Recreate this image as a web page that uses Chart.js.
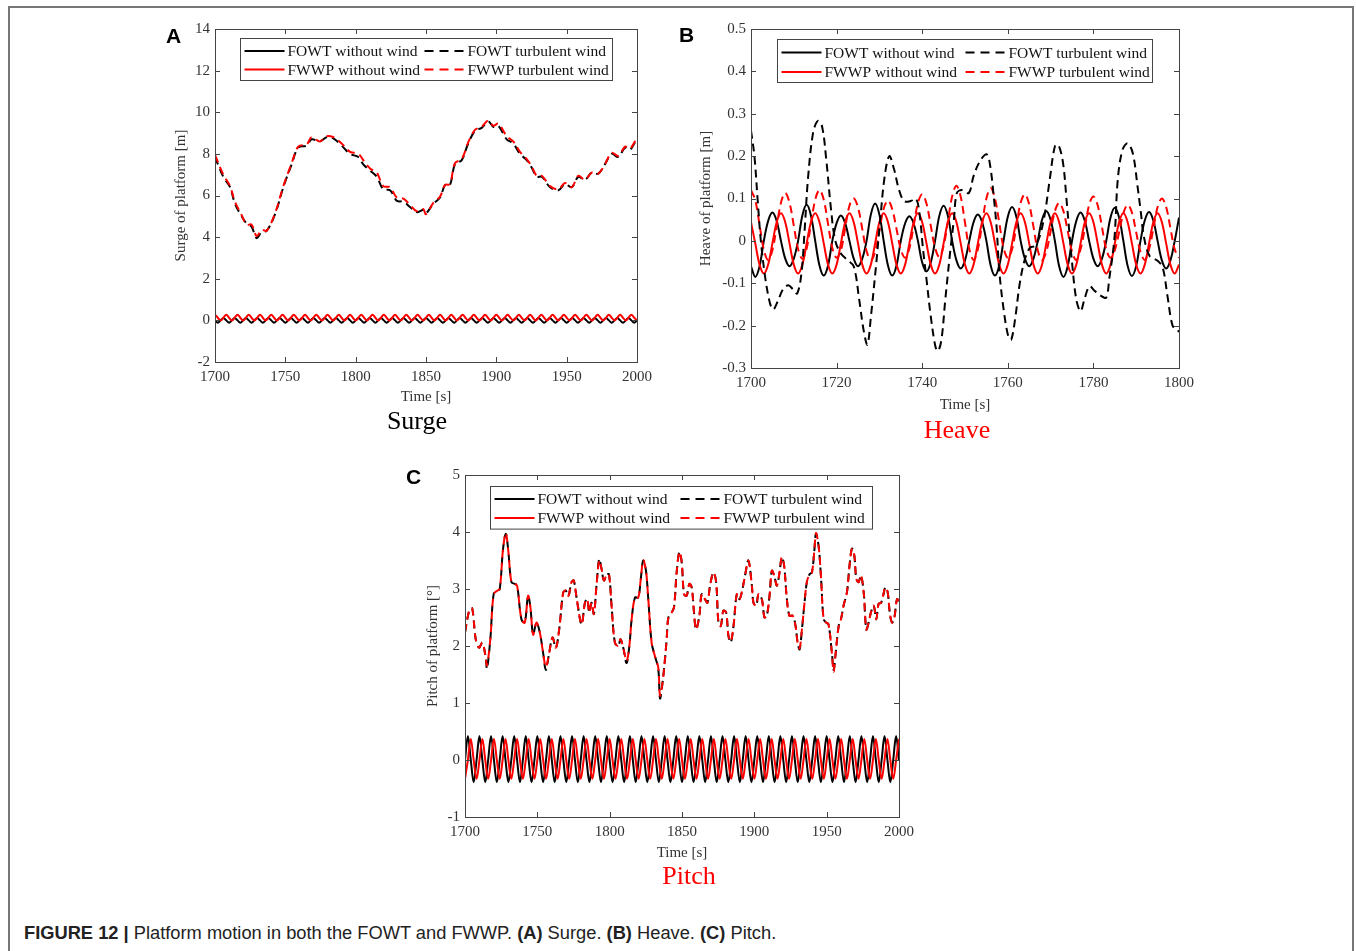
<!DOCTYPE html>
<html lang="en">
<head>
<meta charset="UTF-8">
<title>Platform motion in both the FOWT and FWWP</title>
<script src="https://cdn.jsdelivr.net/npm/chart.js"></script>
<style>
body { margin: 0; background: #fff; overflow: hidden; }
#page { position: relative; width: 1356px; height: 951px; overflow: hidden; font-family: 'Liberation Serif', 'Times New Roman', serif; }
.frame { position: absolute; left: 8px; top: 6px; width: 1342px; height: 1000px; border: 2px solid #777; border-bottom: none; }
canvas { position: absolute; }
.tag { position: absolute; font-family: 'Liberation Sans', Arial, sans-serif; font-weight: bold; font-size: 21px; line-height: 21px; color: #000; }
.name { position: absolute; font-size: 26px; line-height: 26px; transform: translateX(-50%); white-space: nowrap; }
.caption { position: absolute; left: 24px; top: 924px; font-family: 'Liberation Sans', Arial, sans-serif; font-size: 18.3px; line-height: 18px; color: #222; white-space: nowrap; }
</style>
</head>
<body>
<div id="page">
  <div class="frame"></div>
  <canvas id="surgeChart" width="510" height="400" style="left:150px;top:15px"></canvas>
  <canvas id="heaveChart" width="520" height="405" style="left:680px;top:15px"></canvas>
  <canvas id="pitchChart" width="520" height="410" style="left:400px;top:460px"></canvas>
  <div class="tag" style="left:166px;top:25px">A</div>
  <div class="tag" style="left:679px;top:24px">B</div>
  <div class="tag" style="left:406px;top:466px">C</div>
  <div class="name" style="left:417px;top:408px;color:#000">Surge</div>
  <div class="name" style="left:957px;top:417px;color:#f00">Heave</div>
  <div class="name" style="left:689px;top:863px;color:#f00">Pitch</div>
  <div class="caption"><b>FIGURE 12 |</b> Platform motion in both the FOWT and FWWP. <b>(A)</b> Surge. <b>(B)</b> Heave. <b>(C)</b> Pitch.</div>
</div>

<script>
// legend labels (same for all three panels)
const seriesLabels = ['FOWT without wind', 'FOWT turbulent wind', 'FWWP without wind', 'FWWP turbulent wind'];

// tick values
const xTicksLong = [1700, 1750, 1800, 1850, 1900, 1950, 2000];
const xTicksHeave = [1700, 1720, 1740, 1760, 1780, 1800];
const yTicksSurge = [-2, 0, 2, 4, 6, 8, 10, 12, 14];
const yTicksHeave = [-0.3, -0.2, -0.1, 0, 0.1, 0.2, 0.3, 0.4, 0.5];
const yTicksPitch = [-1, 0, 1, 2, 3, 4, 5];

// 2 s sample times, 1700-2000 s (surge and pitch, no wind)
const tGrid2 = [
  1700,1702,1704,1706,1708,1710,1712,1714,1716,1718,1720,1722,1724,1726,1728,1730,
  1732,1734,1736,1738,1740,1742,1744,1746,1748,1750,1752,1754,1756,1758,1760,1762,
  1764,1766,1768,1770,1772,1774,1776,1778,1780,1782,1784,1786,1788,1790,1792,1794,
  1796,1798,1800,1802,1804,1806,1808,1810,1812,1814,1816,1818,1820,1822,1824,1826,
  1828,1830,1832,1834,1836,1838,1840,1842,1844,1846,1848,1850,1852,1854,1856,1858,
  1860,1862,1864,1866,1868,1870,1872,1874,1876,1878,1880,1882,1884,1886,1888,1890,
  1892,1894,1896,1898,1900,1902,1904,1906,1908,1910,1912,1914,1916,1918,1920,1922,
  1924,1926,1928,1930,1932,1934,1936,1938,1940,1942,1944,1946,1948,1950,1952,1954,
  1956,1958,1960,1962,1964,1966,1968,1970,1972,1974,1976,1978,1980,1982,1984,1986,
  1988,1990,1992,1994,1996,1998,2000
];

// 1 s sample times, 1700-1800 s (heave)
const tGrid1 = [
  1700,1701,1702,1703,1704,1705,1706,1707,1708,1709,
  1710,1711,1712,1713,1714,1715,1716,1717,1718,1719,
  1720,1721,1722,1723,1724,1725,1726,1727,1728,1729,
  1730,1731,1732,1733,1734,1735,1736,1737,1738,1739,
  1740,1741,1742,1743,1744,1745,1746,1747,1748,1749,
  1750,1751,1752,1753,1754,1755,1756,1757,1758,1759,
  1760,1761,1762,1763,1764,1765,1766,1767,1768,1769,
  1770,1771,1772,1773,1774,1775,1776,1777,1778,1779,
  1780,1781,1782,1783,1784,1785,1786,1787,1788,1789,
  1790,1791,1792,1793,1794,1795,1796,1797,1798,1799,
  1800
];

// ---- Surge [m] ----
const surgeCalmFowt = [
  0,-0.12,0,0.12,0,-0.12,0,0.12,0,-0.12,0,0.12,0,-0.12,0,0.12,
  0,-0.12,0,0.12,0,-0.12,0,0.12,0,-0.12,0,0.12,0,-0.12,0,0.12,
  0,-0.12,0,0.12,0,-0.12,0,0.12,0,-0.12,0,0.12,0,-0.12,0,0.12,
  0,-0.12,0,0.12,0,-0.12,0,0.12,0,-0.12,0,0.12,0,-0.12,0,0.12,
  0,-0.12,0,0.12,0,-0.12,0,0.12,0,-0.12,0,0.12,0,-0.12,0,0.12,
  0,-0.12,0,0.12,0,-0.12,0,0.12,0,-0.12,0,0.12,0,-0.12,0,0.12,
  0,-0.12,0,0.12,0,-0.12,0,0.12,0,-0.12,0,0.12,0,-0.12,0,0.12,
  0,-0.12,0,0.12,0,-0.12,0,0.12,0,-0.12,0,0.12,0,-0.12,0,0.12,
  0,-0.12,0,0.12,0,-0.12,0,0.12,0,-0.12,0,0.12,0,-0.12,0,0.12,
  0,-0.12,0,0.12,0,-0.12,0
];
const surgeCalmFwwp = [
  0.27,0.13,0,0.13,0.27,0.13,0,0.13,0.27,0.13,0,0.13,0.27,0.13,0,0.13,
  0.27,0.13,0,0.13,0.27,0.13,0,0.13,0.27,0.13,0,0.13,0.27,0.13,0,0.13,
  0.27,0.13,0,0.13,0.27,0.13,0,0.13,0.27,0.13,0,0.13,0.27,0.13,0,0.13,
  0.27,0.13,0,0.13,0.27,0.13,0,0.13,0.27,0.13,0,0.13,0.27,0.13,0,0.13,
  0.27,0.13,0,0.13,0.27,0.13,0,0.13,0.27,0.13,0,0.13,0.27,0.13,0,0.13,
  0.27,0.13,0,0.13,0.27,0.13,0,0.13,0.27,0.13,0,0.13,0.27,0.13,0,0.13,
  0.27,0.13,0,0.13,0.27,0.13,0,0.13,0.27,0.13,0,0.13,0.27,0.13,0,0.13,
  0.27,0.13,0,0.13,0.27,0.13,0,0.13,0.27,0.13,0,0.13,0.27,0.13,0,0.13,
  0.27,0.13,0,0.13,0.27,0.13,0,0.13,0.27,0.13,0,0.13,0.27,0.13,0,0.13,
  0.27,0.13,0,0.13,0.27,0.13,0
];
const tSurgeWind = [
  1700,1705.9,1710.7,1714.2,1719,1722.5,1726,1729.6,1733.2,1736.7,
  1742.7,1748.6,1754.5,1759.2,1765.2,1768.7,1774.6,1779.4,1784.1,1790,
  1796,1801.9,1805.4,1810.2,1815,1819.6,1824.4,1829.2,1833.9,1838.6,
  1843.4,1848,1850,1855.2,1860,1863.5,1867,1870.6,1875.4,1880,
  1884.8,1889.6,1894.3,1897.9,1901.4,1907.4,1912,1916.8,1921.6,1925.1,
  1928.7,1932.3,1938.2,1944.1,1948.8,1953.6,1958.3,1963,1967.8,1972.5,
  1977.2,1982,1986.7,1991.5,1995,1998.6,2000
];
const surgeWindFowt = [
  7.85,6.9,6.4,5.6,5.0,4.65,4.5,3.95,4.25,4.3,
  5.1,6.4,7.5,8.3,8.4,8.7,8.6,8.8,8.75,8.4,
  8.0,7.85,7.5,7.2,6.9,6.3,6.25,5.75,5.7,5.45,
  5.2,5.3,5.15,5.6,5.9,6.5,6.5,7.5,7.7,8.5,
  9.1,9.25,9.55,9.3,9.35,8.7,8.5,8.0,7.7,7.35,
  6.9,6.9,6.4,6.25,6.55,6.4,6.9,6.75,7.1,7.05,
  7.5,8.0,7.85,8.3,8.2,8.55,8.6
];
const surgeWindFwwp = [
  7.95,7.0,6.45,5.7,5.05,4.6,4.6,4.05,4.35,4.3,
  5.15,6.45,7.55,8.35,8.45,8.8,8.6,8.85,8.8,8.5,
  8.1,8.0,7.7,7.3,7.1,6.45,6.4,5.9,5.85,5.55,
  5.25,5.35,5.1,5.65,5.95,6.5,6.55,7.55,7.75,8.55,
  9.15,9.3,9.6,9.35,9.45,8.85,8.6,8.1,7.75,7.4,
  6.95,6.95,6.45,6.3,6.6,6.4,6.95,6.75,7.1,7.05,
  7.5,8.05,7.9,8.35,8.25,8.6,8.65
];

// ---- Heave [m] ----
const heaveCalmFowt = [
  -0.06,-0.085,-0.06,0,0.047,0.067,0.047,0,
  -0.042,-0.06,-0.042,0,0.06,0.085,0.06,0,
  -0.058,-0.082,-0.058,0,0.042,0.06,0.042,0,
  -0.042,-0.06,-0.042,0,0.062,0.088,0.062,0,
  -0.058,-0.082,-0.058,0,0.041,0.058,0.041,0,
  -0.051,-0.072,-0.051,0,0.059,0.083,0.059,0,
  -0.046,-0.065,-0.046,0,0.044,0.062,0.044,0,
  -0.058,-0.082,-0.058,0,0.057,0.08,0.057,0,
  -0.042,-0.06,-0.042,0,0.05,0.07,0.05,0,
  -0.06,-0.085,-0.06,0,0.047,0.067,0.047,0,
  -0.042,-0.06,-0.042,0,0.055,0.078,0.055,0,
  -0.059,-0.083,-0.059,0,0.048,0.068,0.048,0,
  -0.046,-0.065,-0.046,0,0.055
];
const heaveCalmFwwp = [
  0.044,-0.006,-0.056,-0.077,-0.056,-0.006,0.044,0.065,
  0.044,-0.006,-0.056,-0.077,-0.056,-0.006,0.044,0.065,
  0.044,-0.006,-0.056,-0.077,-0.056,-0.006,0.044,0.065,
  0.044,-0.006,-0.056,-0.077,-0.056,-0.006,0.044,0.065,
  0.044,-0.006,-0.056,-0.077,-0.056,-0.006,0.044,0.065,
  0.044,-0.006,-0.056,-0.077,-0.056,-0.006,0.044,0.065,
  0.044,-0.006,-0.056,-0.077,-0.056,-0.006,0.044,0.065,
  0.044,-0.006,-0.056,-0.077,-0.056,-0.006,0.044,0.065,
  0.044,-0.006,-0.056,-0.077,-0.056,-0.006,0.044,0.065,
  0.044,-0.006,-0.056,-0.077,-0.056,-0.006,0.044,0.065,
  0.044,-0.006,-0.056,-0.077,-0.056,-0.006,0.044,0.065,
  0.044,-0.006,-0.056,-0.077,-0.056,-0.006,0.044,0.065,
  0.044,-0.006,-0.056,-0.077,-0.056
];
const heaveWindFwwp = [
  0.12,0.096,0.038,-0.021,-0.045,-0.022,0.034,0.09,
  0.113,0.09,0.036,-0.019,-0.042,-0.018,0.039,0.097,
  0.12,0.097,0.04,-0.017,-0.04,-0.023,0.03,0.083,
  0.1,0.079,0.028,-0.024,-0.045,-0.026,0.025,0.076,
  0.095,0.075,0.028,-0.02,-0.04,-0.018,0.035,0.089,
  0.11,0.088,0.036,-0.016,-0.038,-0.012,0.046,0.105,
  0.13,0.104,0.043,-0.019,-0.045,-0.02,0.04,0.1,
  0.125,0.1,0.043,-0.016,-0.04,-0.02,0.035,0.09,
  0.11,0.086,0.033,-0.022,-0.045,-0.025,0.022,0.07,
  0.09,0.07,0.023,-0.025,-0.045,-0.02,0.03,0.085,
  0.105,0.084,0.033,-0.02,-0.04,-0.022,0.02,0.065,
  0.085,0.067,0.02,-0.026,-0.045,-0.02,0.028,0.08,
  0.1,0.08,0.03,-0.02,-0.04
];
const tHeaveWind = [
  1700,1700.8,1701.6,1702.3,1703.3,1704.4,1705.2,1706.1,1707.5,1708.7,
  1709.8,1710.8,1711.8,1712.5,1713.3,1714.5,1715.6,1716.6,1717.6,1718.7,
  1719.7,1721,1722.5,1724,1725.3,1726.3,1727.2,1728,1729.2,1730.2,
  1731.2,1732.3,1733.4,1734.6,1735.8,1737.3,1738.5,1739.3,1740.2,1741,
  1742,1743.1,1743.7,1744.5,1745.4,1746.6,1747.4,1748.1,1749.3,1750.9,
  1752,1753.6,1755.1,1755.9,1756.7,1757.4,1758,1759,1760.1,1760.8,
  1761.7,1762.8,1764,1765.2,1766.3,1767.5,1768.7,1769.8,1771,1771.8,
  1772.9,1773.7,1774.3,1775,1776,1777,1777.9,1779.1,1780.3,1781.8,
  1783,1783.7,1784.9,1785.7,1786.8,1788,1789.2,1790.3,1791.1,1791.8,
  1793.1,1795,1796.2,1797.3,1798.5,1799.6,1800
];
const heaveWindFowt = [
  0.26,0.2,0.09,0,-0.085,-0.146,-0.162,-0.146,-0.114,-0.105,
  -0.114,-0.124,-0.075,0.02,0.145,0.255,0.283,0.27,0.19,0.074,
  0,-0.03,-0.045,-0.06,-0.14,-0.21,-0.245,-0.18,-0.06,0.05,
  0.15,0.2,0.17,0.12,0.094,0.094,0.1,0.07,-0.02,-0.09,
  -0.178,-0.25,-0.26,-0.233,-0.138,-0.02,0.05,0.113,0.12,0.113,
  0.153,0.19,0.204,0.176,0.106,0.03,-0.07,-0.16,-0.225,-0.233,
  -0.185,-0.1,-0.043,-0.016,-0.012,0.012,0.067,0.145,0.223,0.227,
  0.184,0.1,0.03,-0.05,-0.138,-0.166,-0.138,-0.107,-0.118,-0.13,
  -0.134,-0.09,0.004,0.145,0.215,0.23,0.207,0.13,0.066,0.01,
  -0.035,-0.047,-0.063,-0.13,-0.2,-0.21,-0.215
];

// ---- Pitch [deg] ----
const pitchCalmFowt = [
  0,0.42,0,-0.39,0,0.42,0,-0.39,0,0.42,0,-0.39,0,0.42,0,-0.39,
  0,0.42,0,-0.39,0,0.42,0,-0.39,0,0.42,0,-0.39,0,0.42,0,-0.39,
  0,0.42,0,-0.39,0,0.42,0,-0.39,0,0.42,0,-0.39,0,0.42,0,-0.39,
  0,0.42,0,-0.39,0,0.42,0,-0.39,0,0.42,0,-0.39,0,0.42,0,-0.39,
  0,0.42,0,-0.39,0,0.42,0,-0.39,0,0.42,0,-0.39,0,0.42,0,-0.39,
  0,0.42,0,-0.39,0,0.42,0,-0.39,0,0.42,0,-0.39,0,0.42,0,-0.39,
  0,0.42,0,-0.39,0,0.42,0,-0.39,0,0.42,0,-0.39,0,0.42,0,-0.39,
  0,0.42,0,-0.39,0,0.42,0,-0.39,0,0.42,0,-0.39,0,0.42,0,-0.39,
  0,0.42,0,-0.39,0,0.42,0,-0.39,0,0.42,0,-0.39,0,0.42,0,-0.39,
  0,0.42,0,-0.39,0,0.42,0
];
const pitchCalmFwwp = [
  -0.33,0,0.37,0,-0.33,0,0.37,0,-0.33,0,0.37,0,-0.33,0,0.37,0,
  -0.33,0,0.37,0,-0.33,0,0.37,0,-0.33,0,0.37,0,-0.33,0,0.37,0,
  -0.33,0,0.37,0,-0.33,0,0.37,0,-0.33,0,0.37,0,-0.33,0,0.37,0,
  -0.33,0,0.37,0,-0.33,0,0.37,0,-0.33,0,0.37,0,-0.33,0,0.37,0,
  -0.33,0,0.37,0,-0.33,0,0.37,0,-0.33,0,0.37,0,-0.33,0,0.37,0,
  -0.33,0,0.37,0,-0.33,0,0.37,0,-0.33,0,0.37,0,-0.33,0,0.37,0,
  -0.33,0,0.37,0,-0.33,0,0.37,0,-0.33,0,0.37,0,-0.33,0,0.37,0,
  -0.33,0,0.37,0,-0.33,0,0.37,0,-0.33,0,0.37,0,-0.33,0,0.37,0,
  -0.33,0,0.37,0,-0.33,0,0.37,0,-0.33,0,0.37,0,-0.33,0,0.37,0,
  -0.33,0,0.37,0,-0.33,0,0.37
];
const tPitchWind = [
  1700,1703.2,1705,1707.4,1709.7,1712,1714.3,1715.2,1717.5,1719.8,
  1722.2,1724,1726.3,1728.2,1729.8,1732.1,1734.4,1736,1739,1741.3,
  1743.6,1745.2,1747.1,1749.4,1751.7,1754,1755.9,1758.2,1760.5,1762.8,
  1765.1,1767.9,1769.7,1771.5,1773.6,1775.2,1777.1,1780.6,1782.9,1784.5,
  1785.9,1787.5,1789.1,1790.9,1792.8,1794.4,1796,1797.9,1799.5,1801.3,
  1803.6,1806,1807.5,1809.4,1811.7,1813.6,1815.2,1817.5,1819.8,1821.4,
  1823.2,1825.1,1826.7,1829,1831.3,1833.6,1834.8,1836.5,1838.2,1839.4,
  1840.6,1842.9,1844.5,1846.3,1848.2,1849.8,1851.4,1853.2,1855.1,1856.7,
  1858.3,1859.7,1862,1863.6,1865.9,1867.6,1869.4,1871.7,1873.6,1875.2,
  1876.8,1878.6,1880.5,1882.1,1883.7,1885.6,1887.9,1889.7,1891.3,1893.6,
  1895.9,1898.3,1899.4,1901.3,1902.9,1905.2,1907,1908.6,1910.5,1912.1,
  1913.7,1915.6,1917.4,1919,1920.6,1922.5,1924.3,1926.6,1928.5,1929.9,
  1931.3,1932.9,1934.5,1936.3,1938.2,1939.8,1941.4,1942.6,1944.4,1946,
  1947.9,1949.7,1951.3,1953.6,1954.8,1956,1958.3,1959.9,1961.7,1964,
  1965.8,1967.5,1969.1,1970.5,1972.1,1973.7,1975.6,1977.4,1979,1980.6,
  1982.5,1984.3,1985.9,1987.6,1989,1990.6,1992.2,1993.6,1995.2,1996.8,
  1998.6,2000
];
const pitchWindFowt = [
  2.24,2.65,2.66,2.12,1.97,2.06,1.8,1.6,2.12,2.91,
  2.97,3.0,3.7,3.97,3.7,3.12,3.09,3.06,2.47,2.41,
  2.88,2.68,2.2,2.41,2.24,1.88,1.58,1.88,2.15,1.97,
  2.29,2.94,2.97,2.88,3.12,3.15,2.85,2.38,2.76,2.82,
  2.59,2.76,2.56,3.06,3.53,3.35,3.15,3.24,3.26,2.71,
  2.06,2.0,2.12,1.97,1.7,2.0,2.47,2.85,2.85,3.15,
  3.5,3.32,2.82,2.06,1.82,1.6,1.08,1.35,1.76,2.12,
  2.5,2.59,2.68,3.29,3.65,3.47,2.91,2.88,3.09,3.03,
  2.59,2.29,2.53,2.91,2.82,2.76,3.06,3.29,3.12,2.41,
  2.35,2.62,2.59,2.18,2.06,2.35,2.91,2.82,2.94,3.24,
  3.5,3.06,2.76,2.71,2.91,2.82,2.5,2.53,2.88,3.32,
  3.24,3.06,3.29,3.56,3.41,2.82,2.53,2.53,2.35,2.06,
  1.94,2.29,2.71,3.12,3.26,3.29,3.65,3.97,3.76,3.24,
  2.47,2.41,2.38,1.88,1.58,1.82,2.35,2.47,2.71,2.94,
  3.41,3.71,3.59,3.18,3.12,3.24,2.94,2.29,2.41,2.59,
  2.71,2.47,2.74,2.76,2.88,3.03,2.94,2.59,2.41,2.5,
  2.82,2.79
];
const pitchWindFwwp = [
  2.24,2.65,2.66,2.12,1.97,2.06,1.8,1.66,2.12,2.91,
  2.97,3.0,3.7,3.98,3.7,3.12,3.09,3.06,2.47,2.41,
  2.88,2.68,2.2,2.41,2.24,1.88,1.63,1.88,2.15,1.97,
  2.29,2.94,2.97,2.88,3.12,3.15,2.85,2.38,2.76,2.82,
  2.59,2.76,2.56,3.06,3.5,3.35,3.15,3.24,3.26,2.71,
  2.06,2.0,2.12,1.97,1.74,2.0,2.47,2.85,2.85,3.15,
  3.5,3.32,2.82,2.06,1.82,1.62,1.13,1.35,1.76,2.12,
  2.5,2.59,2.68,3.29,3.65,3.47,2.91,2.88,3.09,3.03,
  2.59,2.29,2.53,2.91,2.82,2.76,3.06,3.29,3.12,2.41,
  2.35,2.62,2.59,2.18,2.08,2.35,2.91,2.82,2.94,3.24,
  3.5,3.06,2.76,2.71,2.91,2.82,2.5,2.53,2.88,3.32,
  3.24,3.06,3.29,3.56,3.41,2.82,2.53,2.53,2.35,2.06,
  1.96,2.29,2.71,3.12,3.26,3.29,3.65,3.98,3.76,3.24,
  2.47,2.41,2.38,1.88,1.55,1.82,2.35,2.47,2.71,2.94,
  3.41,3.71,3.59,3.18,3.12,3.24,2.94,2.29,2.41,2.59,
  2.71,2.47,2.74,2.76,2.88,3.03,2.94,2.59,2.41,2.5,
  2.82,2.79
];

const serif = "'Liberation Serif', 'Times New Roman', serif";

// box frame with inward ticks on all four sides
const frameTicks = {
  id: 'frameTicks',
  afterDatasetsDraw(chart) {
    const { ctx, chartArea: a, scales: { x, y } } = chart;
    ctx.save();
    ctx.strokeStyle = '#444';
    ctx.lineWidth = 1;
    ctx.beginPath();
    x.ticks.forEach(t => {
      const px = Math.round(x.getPixelForValue(t.value)) + 0.5;
      ctx.moveTo(px, a.bottom); ctx.lineTo(px, a.bottom - 5);
      ctx.moveTo(px, a.top); ctx.lineTo(px, a.top + 5);
    });
    y.ticks.forEach(t => {
      const py = Math.round(y.getPixelForValue(t.value)) + 0.5;
      ctx.moveTo(a.left, py); ctx.lineTo(a.left + 5, py);
      ctx.moveTo(a.right, py); ctx.lineTo(a.right - 5, py);
    });
    ctx.stroke();
    ctx.strokeRect(Math.round(a.left) + 0.5, Math.round(a.top) + 0.5, Math.round(a.width), Math.round(a.height));
    ctx.restore();
  }
};

// two-column legend in a box, like the MATLAB one
const boxLegend = {
  id: 'boxLegend',
  afterDraw(chart, args, o) {
    const { ctx, chartArea: a } = chart;
    const x0 = Math.round(a.left + o.dx) + 0.5, y0 = Math.round(a.top + o.dy) + 0.5;
    ctx.save();
    ctx.fillStyle = '#fff';
    ctx.fillRect(x0, y0, o.w, o.h);
    ctx.strokeStyle = '#444';
    ctx.lineWidth = 1;
    ctx.strokeRect(x0, y0, o.w, o.h);
    ctx.font = '15.5px ' + serif;
    ctx.textBaseline = 'middle';
    seriesLabels.forEach((label, i) => {
      const ds = chart.data.datasets.find(d => d.label === label);
      const lx = x0 + (i % 2 ? o.col2 : 4);
      const ly = y0 + (i < 2 ? o.row1 : o.row2);
      ctx.strokeStyle = ds.borderColor;
      ctx.lineWidth = 2;
      ctx.setLineDash(ds.borderDash.length ? [9, 6] : []);
      ctx.beginPath();
      ctx.moveTo(lx, ly);
      ctx.lineTo(lx + 40, ly);
      ctx.stroke();
      ctx.setLineDash([]);
      ctx.fillStyle = '#111';
      ctx.fillText(label, lx + 43, ly + 1);
    });
    ctx.restore();
  }
};

function series(label, xs, ys, color, dashed, order) {
  return {
    label: label,
    data: xs.map((x, i) => ({ x: x, y: ys[i] })),
    borderColor: color,
    borderWidth: 2,
    borderDash: dashed ? [8, 5] : [],
    pointRadius: 0,
    tension: 0.35,
    fill: false,
    order: order
  };
}

function makeChart(id, datasets, ax) {
  const tickFont = { family: serif, size: 15 };
  return new Chart(document.getElementById(id), {
    type: 'line',
    data: { datasets: datasets },
    plugins: [frameTicks, boxLegend],
    options: {
      responsive: false,
      animation: false,
      devicePixelRatio: 1,
      layout: { padding: { top: ax.padTop, right: ax.padRight, left: 0, bottom: 0 } },
      plugins: {
        legend: { display: false },
        tooltip: { enabled: false },
        boxLegend: ax.legend
      },
      scales: {
        x: {
          type: 'linear',
          min: ax.xTicks[0],
          max: ax.xTicks[ax.xTicks.length - 1],
          afterBuildTicks: s => { s.ticks = ax.xTicks.map(v => ({ value: v })); },
          afterFit: s => { s.height = ax.xH; },
          grid: { display: false, drawTicks: false },
          border: { display: false },
          ticks: { font: tickFont, color: '#333', padding: 6, maxRotation: 0, autoSkip: false, callback: v => String(v) },
          title: { display: true, text: 'Time [s]', font: tickFont, color: '#333', padding: { top: 0, bottom: ax.xTitlePad } }
        },
        y: {
          min: ax.yTicks[0],
          max: ax.yTicks[ax.yTicks.length - 1],
          afterBuildTicks: s => { s.ticks = ax.yTicks.map(v => ({ value: v })); },
          afterFit: s => { s.width = ax.yW; },
          grid: { display: false, drawTicks: false },
          border: { display: false },
          ticks: { font: tickFont, color: '#333', padding: 5, autoSkip: false, callback: v => String(v) },
          title: { display: true, text: ax.yTitle, font: tickFont, color: '#333', padding: { top: ax.yTitlePad, bottom: 0 } }
        }
      }
    }
  });
}

makeChart('surgeChart', [
  series(seriesLabels[3], tSurgeWind, surgeWindFwwp, '#ff0000', true, 0),
  series(seriesLabels[1], tSurgeWind, surgeWindFowt, '#000000', true, 1),
  series(seriesLabels[2], tGrid2, surgeCalmFwwp, '#ff0000', false, 2),
  series(seriesLabels[0], tGrid2, surgeCalmFowt, '#000000', false, 3)
], {
  xTicks: xTicksLong, yTicks: yTicksSurge, yTitle: 'Surge of platform [m]',
  padTop: 14, padRight: 23, xH: 53, yW: 65, xTitlePad: 9, yTitlePad: 22,
  legend: { dx: 25, dy: 9, w: 372, h: 42, col2: 184, row1: 12.5, row2: 31 }
});

makeChart('heaveChart', [
  series(seriesLabels[1], tHeaveWind, heaveWindFowt, '#000000', true, 0),
  series(seriesLabels[3], tGrid1, heaveWindFwwp, '#ff0000', true, 1),
  series(seriesLabels[2], tGrid1, heaveCalmFwwp, '#ff0000', false, 2),
  series(seriesLabels[0], tGrid1, heaveCalmFowt, '#000000', false, 3)
], {
  xTicks: xTicksHeave, yTicks: yTicksHeave, yTitle: 'Heave of platform [m]',
  padTop: 14, padRight: 19, xH: 52, yW: 71, xTitlePad: 6, yTitlePad: 17,
  legend: { dx: 26, dy: 10, w: 375, h: 43, col2: 188, row1: 13, row2: 32.4 }
});

makeChart('pitchChart', [
  series(seriesLabels[3], tPitchWind, pitchWindFwwp, '#ff0000', true, 0),
  series(seriesLabels[1], tPitchWind, pitchWindFowt, '#000000', true, 1),
  series(seriesLabels[2], tGrid2, pitchCalmFwwp, '#ff0000', false, 2),
  series(seriesLabels[0], tGrid2, pitchCalmFowt, '#000000', false, 3)
], {
  xTicks: xTicksLong, yTicks: yTicksPitch, yTitle: 'Pitch of platform [\u00b0]',
  padTop: 15, padRight: 21, xH: 53, yW: 65, xTitlePad: 8, yTitlePad: 24,
  legend: { dx: 25, dy: 10.7, w: 382, h: 42.6, col2: 190, row1: 12.6, row2: 31.6 }
});
</script>
</body>
</html>
